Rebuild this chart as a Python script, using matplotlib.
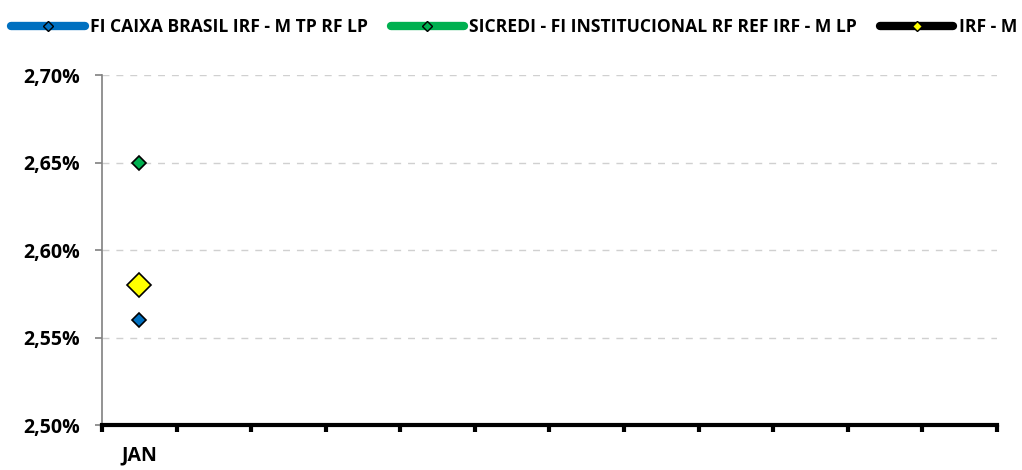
import matplotlib.pyplot as plt
from matplotlib.lines import Line2D
from matplotlib.ticker import FixedLocator, NullFormatter

plt.rcParams['font.family'] = ['Open Sans', 'DejaVu Sans']

# %% dados
meses = ['JAN', '', '', '', '', '', '', '', '', '', '', '']
fundos = [
    'FI CAIXA BRASIL IRF - M TP RF LP',
    'SICREDI - FI INSTITUCIONAL RF REF IRF - M LP',
    'IRF - M',
]
rent_jan = [2.56, 2.65, 2.58]
cores = ['#0070C0', '#00B050', '#000000']
cores_marker = ['#0070C0', '#00B050', '#FFFF00']
y_ticks = [2.50, 2.55, 2.60, 2.65, 2.70]
y_labels = ['2,50%', '2,55%', '2,60%', '2,65%', '2,70%']

# %% grafico
fig = plt.figure(figsize=(10.22, 4.70), dpi=100)
ax = fig.add_axes([0.0998, 0.0957, 0.8757, 0.7447])

tam_marker = [7, 7, 12]
for nome, valor, cm, ms in zip(fundos, rent_jan, cores_marker, tam_marker):
    ax.plot([0], [valor], linestyle='none', marker='D', markersize=ms,
            markerfacecolor=cm, markeredgecolor='black', markeredgewidth=1.2,
            zorder=3)

ax.set_xlim(-0.5, len(meses) - 0.5)
ax.set_ylim(y_ticks[0], y_ticks[-1])
ax.set_yticks(y_ticks)
ax.set_yticklabels(y_labels, fontsize=14, fontweight='bold')

ax.xaxis.set_major_locator(FixedLocator([i - 0.5 for i in range(len(meses) + 1)]))
ax.xaxis.set_major_formatter(NullFormatter())
ax.xaxis.set_minor_locator(FixedLocator(list(range(len(meses)))))
ax.set_xticklabels(meses, minor=True, fontsize=14, fontweight='bold')
ax.tick_params(axis='x', which='major', length=5, width=3, color='black', direction='out')
ax.tick_params(axis='x', which='minor', length=0, pad=15)
ax.tick_params(axis='y', length=5, width=1.2, color='#808080', pad=11)

ax.grid(axis='y', linestyle=(0, (5, 5)), color='#D0D0D0', linewidth=1)
ax.set_axisbelow(True)
for lado in ['top', 'right']:
    ax.spines[lado].set_visible(False)
ax.spines['bottom'].set_linewidth(3)
ax.spines['bottom'].set_color('black')
ax.spines['bottom'].set_zorder(4)
ax.spines['left'].set_linewidth(1.2)
ax.spines['left'].set_color('#808080')

handles = []
for cor, cm in zip(cores, cores_marker):
    handles.append(Line2D([0], [0], color=cor, linewidth=6, solid_capstyle='round',
                          marker='D', markersize=5, markerfacecolor=cm,
                          markeredgecolor='black', markeredgewidth=1))
fig.legend(handles, fundos, loc='upper left', bbox_to_anchor=(-0.001, 0.988),
           ncol=3, frameon=False, handlelength=4.2, handletextpad=0.3,
           columnspacing=1.3, borderaxespad=0.4, borderpad=0.3,
           prop={'size': 12.6, 'weight': 'bold'})

fig.savefig('out.png', dpi=100)
